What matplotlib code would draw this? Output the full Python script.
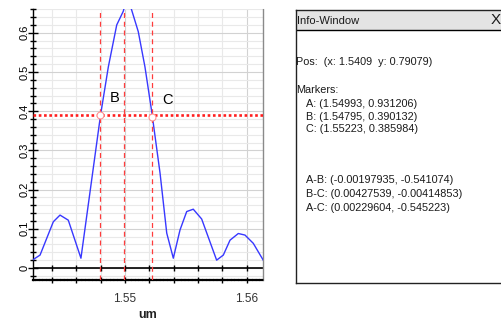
import matplotlib
matplotlib.use('Agg')
import matplotlib.pyplot as plt
import numpy as np
from matplotlib.ticker import MultipleLocator, FuncFormatter

# ---------------- data ----------------
wavelength_um = [1.54238, 1.54302, 1.54411, 1.54466, 1.54534, 1.54638,
                 1.54799, 1.54863, 1.54932, 1.54986, 1.55000, 1.55041,
                 1.55109, 1.55164, 1.55219, 1.55288, 1.55343, 1.55397,
                 1.55452, 1.55507, 1.55561, 1.55630,
                 1.55753, 1.55808, 1.55863, 1.55931, 1.55986, 1.56054, 1.56136]
intensity = [0.020, 0.033, 0.118, 0.135, 0.122, 0.025,
             0.390, 0.513, 0.620, 0.655, 0.672, 0.672,
             0.603, 0.513, 0.400, 0.242, 0.089, 0.025,
             0.097, 0.144, 0.150, 0.125,
             0.020, 0.033, 0.071, 0.088, 0.084, 0.063, 0.020]

marker_names = ['A', 'B', 'C']
marker_x = [1.54993, 1.54795, 1.55223]
marker_y = [0.931206, 0.390132, 0.385984]
diff_names = ['A-B', 'B-C', 'A-C']
diff_x = [-0.00197935, 0.00427539, 0.00229604]
diff_y = [-0.541074, -0.00414853, -0.545223]
pos_x, pos_y = 1.5409, 0.79079
x_label = 'um'
info_title = 'Info-Window'

SANS = ['Liberation Sans', 'DejaVu Sans']

W, H = 502, 322
fig = plt.figure(figsize=(W / 100, H / 100), dpi=100)
fig.patch.set_facecolor('white')

ax = fig.add_axes([33 / W, 1 - 280 / H, (263 - 33) / W, (280 - 9) / H])
ax.set_xlim(1.54244, 1.56134)
ax.set_ylim(-0.0306, 0.6607)

# grid / ticks
ax.xaxis.set_major_locator(MultipleLocator(0.01))
ax.xaxis.set_minor_locator(MultipleLocator(0.002))
ax.yaxis.set_major_locator(MultipleLocator(0.1))
ax.yaxis.set_minor_locator(MultipleLocator(0.02))
ax.set_axisbelow(True)
ax.grid(which='minor', color='#e9e9e9', lw=0.8)
ax.grid(which='major', color='#d2d2d2', lw=0.8)

ax.yaxis.set_major_formatter(FuncFormatter(lambda v, p: '%g' % round(v, 3)))
ax.xaxis.set_major_formatter(FuncFormatter(lambda v, p: '%g' % round(v, 4)))
ax.tick_params(axis='y', which='major', direction='inout', length=7, width=1,
               labelsize=8, pad=-1, labelrotation=90)
ax.tick_params(axis='y', which='minor', direction='inout', length=4, width=1)
ax.tick_params(axis='x', which='both', direction='inout', length=4, width=1,
               labelsize=8.5, pad=7, labelcolor='#333333')
for lbl in ax.get_yticklabels():
    lbl.set_va('center')
    lbl.set_family(SANS)
for lbl in ax.get_xticklabels():
    lbl.set_family(SANS)

ax.spines['top'].set_visible(False)
ax.spines['left'].set_color('black')
ax.spines['left'].set_linewidth(1.0)
ax.spines['bottom'].set_linestyle((0, (0.8, 0.8)))
ax.spines['bottom'].set_linewidth(1.6)
ax.spines['right'].set_linestyle((0, (1, 1)))
ax.spines['right'].set_color('#8a8a8a')
ax.spines['right'].set_linewidth(1.0)

# zero axis line with its own ticks
ax.axhline(0, color='black', lw=1.2, zorder=2.5)
zero_ticks = np.union1d(ax.xaxis.get_minorticklocs(), ax.xaxis.get_majorticklocs())
zero_ticks = zero_ticks[(zero_ticks > ax.get_xlim()[0]) & (zero_ticks < ax.get_xlim()[1])]
ax.plot(zero_ticks, np.zeros_like(zero_ticks), ls='none', marker='|', ms=5,
        mew=1.0, color='black', zorder=2.6)

ax.set_xlabel(x_label, fontsize=9, fontweight='bold', family=SANS, labelpad=3,
              color='#222222')

# curve
ax.plot(wavelength_um, intensity, color='#3838ff', lw=1.0, zorder=3)

# markers
for xm in marker_x:
    ax.axvline(xm, color='#ff3c3c', lw=0.9, ls=(0, (4, 3)), zorder=4)
ax.axhline(marker_y[1], color='#ff1e1e', lw=1.9, ls=(0, (1, 1)), zorder=4)
ax.plot(marker_x[1:], marker_y[1:], 'o', ms=5, mfc='white', mec='#ff9090',
        mew=0.8, zorder=5)
for name, xm, ym in zip(marker_names[1:], marker_x[1:], marker_y[1:]):
    ax.annotate(name, (xm, ym), xytext=(15, 17), textcoords='offset pixels',
                ha='center', va='center', fontsize=10.5, family=SANS,
                color='black', zorder=6)

# ---------------- info window ----------------
iax = fig.add_axes([295.5 / W, 1 - 283 / H, (504 - 295.5) / W, (283 - 9.5) / H])
iax.set_xlim(0, 1)
iax.set_ylim(0, 1)
iax.set_xticks([])
iax.set_yticks([])
for s in iax.spines.values():
    s.set_color('#222222')
    s.set_linewidth(1.0)
bar_y = (283 - 30) / (283 - 9.5)
iax.axhspan(bar_y, 1, color='#e4e4e4', lw=0)
iax.axhline(bar_y, color='black', lw=1.0)

def ftxt(x, y, s, size=7.8):
    fig.text(x / W, 1 - y / H, s, ha='left', va='center', family=SANS,
             color='#1a1a1a', fontsize=size)

ftxt(297, 20.5, info_title, 8.0)
fig.text(496 / W, 1 - 20 / H, 'X', ha='center', va='center', family=SANS,
         fontsize=11, color='#1a1a1a')
ftxt(296, 61.7, 'Pos:  (x: %g  y: %g)' % (pos_x, pos_y))
ftxt(296, 90, 'Markers:')
for i, (n, xm, ym) in enumerate(zip(marker_names, marker_x, marker_y)):
    ftxt(306, 104.3 + i * 12.5, '%s: (%g, %g)' % (n, xm, ym))
for i, (n, dx, dy) in enumerate(zip(diff_names, diff_x, diff_y)):
    ftxt(306, 180 + i * 14.2, '%s: (%g, %g)' % (n, dx, dy))

fig.savefig('out.png', dpi=100)
